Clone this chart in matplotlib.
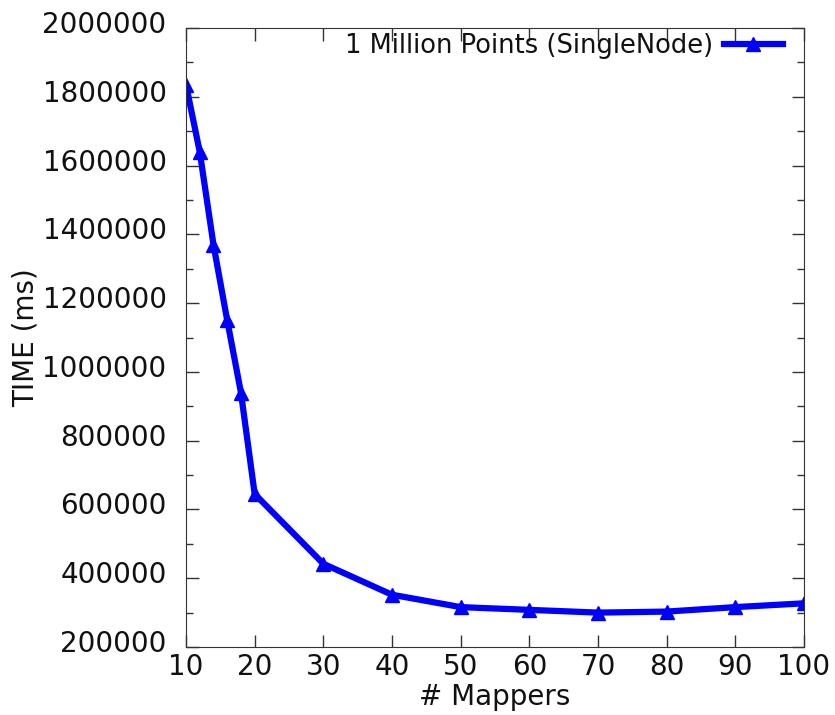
import matplotlib
matplotlib.use("Agg")
import matplotlib.pyplot as plt
import matplotlib.transforms as mtransforms
from matplotlib.ticker import MultipleLocator, FormatStrFormatter

mappers = [10, 12, 14, 16, 18, 20, 30, 40, 50, 60, 70, 80, 90, 100]
time_ms = [1835000, 1640000, 1370000, 1150000, 940000, 645000, 442000,
           352000, 316000, 308000, 300000, 303000, 316000, 327000]
series_label = "1 Million Points (SingleNode)"

fig = plt.figure(figsize=(8.35, 7.15), dpi=100)
ax = fig.add_axes([186/835, 1-647/715, (804-186)/835, (647-28)/715])

ax.plot(mappers, time_ms, color="#0000ff", lw=4.5, marker="^", markersize=10,
        label=series_label)

ax.set_xlim(10, 100)
ax.set_ylim(200000, 2000000)
ax.xaxis.set_major_locator(MultipleLocator(10))
ax.yaxis.set_major_locator(MultipleLocator(200000))
ax.yaxis.set_minor_locator(MultipleLocator(100000))
ax.yaxis.set_major_formatter(FormatStrFormatter("%d"))
ax.tick_params(which="both", direction="in", top=True, right=True,
               labelsize=20, colors="#333333", labelcolor="#111111")
ax.tick_params(which="major", length=9, width=1)
ax.tick_params(which="minor", length=5, width=1)
ax.tick_params(axis="x", pad=4)
ax.tick_params(axis="y", pad=14)
for s in ax.spines.values():
    s.set_color("#333333")

offset = mtransforms.ScaledTranslation(0, 6/100, fig.dpi_scale_trans)
for lbl in ax.get_yticklabels():
    lbl.set_transform(lbl.get_transform() + offset)

ax.set_xlabel("# Mappers", fontsize=20, labelpad=2, color="#111111")
ax.set_ylabel("TIME (ms)", fontsize=20, labelpad=2, color="#111111")
ax.legend(loc="upper right", bbox_to_anchor=(0.974, 1.0), frameon=False,
          markerfirst=False, fontsize=18.5, handlelength=2.3,
          borderaxespad=0.0, handletextpad=0.4, borderpad=0.2,
          labelcolor="#111111")

fig.savefig("out.png", dpi=100)
